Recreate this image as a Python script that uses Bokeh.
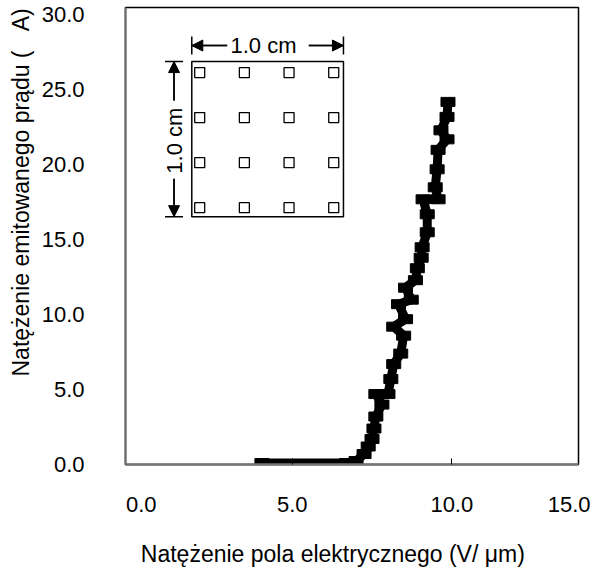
import numpy as np
from bokeh.plotting import figure
from bokeh.models import (Range1d, FixedTicker, Title, Label, Arrow,
                          NormalHead, TeeHead, ColumnDataSource, PrintfTickFormatter)
from bokeh.embed import file_html
from bokeh.resources import INLINE

# ---- data ----
field = [4.05, 6.70, 7.00, 7.25, 7.38, 7.50, 7.56, 7.62, 7.81, 7.62,
         8.00, 8.09, 8.18, 8.40, 8.49, 8.18, 8.55, 8.33, 8.73, 8.55,
         8.86, 8.92, 9.04, 9.07, 9.23, 9.23, 9.10, 9.57, 9.48, 9.54,
         9.57, 9.85, 9.66, 9.85, 9.88]
current = [0.1, 0.1, 0.23, 0.7, 1.2, 1.7, 2.4, 3.2, 4.0, 4.7,
           4.7, 5.7, 6.7, 7.4, 8.6, 9.2, 9.7, 10.7, 11.0, 11.8,
           12.3, 13.1, 13.8, 14.5, 15.5, 16.7, 17.7, 17.7, 18.5, 19.7,
           21.0, 21.7, 22.3, 23.2, 24.2]

y_ticks = [0, 5, 10, 15, 20, 25, 30]
x_tick_marks = [5, 10]
x_tick_labels = ["0.0", "5.0", "10.0", "15.0"]
x_label_pos = [0.27, 5, 10, 13.69]   # where the labels sit in the original

x_title = "Natężenie pola elektrycznego (V/ μm)"
y_title = "Natężenie emitowanego prądu (\u00a0\u00a0\u00a0A)"
inset_text = "1.0 cm"

FONT = "Liberation Sans"

p = figure(width=590, height=571, x_range=Range1d(-0.225, 13.97), y_range=Range1d(0, 30.5),
           output_backend="svg", toolbar_location=None,
           min_border_left=118, min_border_right=12, min_border_top=7, min_border_bottom=107)
p.grid.visible = False
p.outline_line_color = "black"
p.outline_line_width = 1.5
p.background_fill_color = "white"
p.border_fill_color = "white"

# y axis
yax = p.yaxis[0]
yax.ticker = FixedTicker(ticks=y_ticks)
yax.formatter = PrintfTickFormatter(format="%.1f")
yax.major_tick_line_color = None
yax.minor_tick_line_color = None
yax.major_tick_in = 0
yax.major_tick_out = 0
yax.major_label_standoff = 41
yax.major_label_text_font = FONT
yax.major_label_text_font_size = "22px"
yax.major_label_text_color = "black"
yax.axis_line_color = "#6e6e6e"
yax.axis_line_width = 2

# x axis: labels where the original put them, tick marks at 5 and 10
xax = p.xaxis[0]
xax.ticker = FixedTicker(ticks=x_label_pos, minor_ticks=x_tick_marks)
xax.major_label_overrides = dict(zip(x_label_pos, x_tick_labels))
xax.major_tick_line_color = None
xax.major_tick_in = 0
xax.major_tick_out = 0
xax.minor_tick_line_color = "black"
xax.minor_tick_in = 6
xax.minor_tick_out = 0
xax.major_label_standoff = 32
xax.major_label_text_font = FONT
xax.major_label_text_font_size = "22px"
xax.major_label_text_color = "black"
xax.axis_line_color = "#777777"
xax.axis_line_width = 2.5
xax.axis_label = x_title + "\u00a0" * 6
xax.axis_label_standoff = 26
xax.axis_label_text_font = FONT
xax.axis_label_text_font_size = "23px"
xax.axis_label_text_font_style = "normal"
xax.axis_label_text_color = "black"

p.add_layout(Title(text=y_title, align="left", offset=88, text_font=FONT,
                   text_font_size="23px", text_font_style="normal", text_color="black"), "left")

# data curve
src = ColumnDataSource(dict(x=field, y=current))
p.line("x", "y", source=src, line_width=9, line_color="black", line_join="bevel")
p.rect("x", "y", width=14, height=9, width_units="screen", height_units="screen",
       source=src, color="black")

# inset schematic (sample with 4 x 4 emitter array)
in_l, in_r, in_t, in_b = 1.852, 6.605, 26.89, 16.54
p.quad(left=[in_l], right=[in_r], top=[in_t], bottom=[in_b], fill_color=None,
       line_color="black", line_width=1.5)
gx, gy = np.meshgrid(np.linspace(2.10, 6.30, 4), np.linspace(17.14, 26.16, 4))
p.scatter(gx.ravel(), gy.ravel(), marker="square", size=10, fill_color="white",
          line_color="black", line_width=1.3)

ay = 27.96
for x0, x1 in [(2.96, in_l), (5.52, in_r)]:
    p.add_layout(Arrow(x_start=x0, y_start=ay, x_end=x1, y_end=ay, line_width=1.5,
                       end=NormalHead(size=11, fill_color="black", line_color="black")))
    p.add_layout(Arrow(x_start=x0, y_start=ay, x_end=x1, y_end=ay, line_width=1.5,
                       end=TeeHead(size=18, line_width=1.5)))
ax_ = 1.296
for y0, y1 in [(24.29, in_t), (19.07, in_b)]:
    p.add_layout(Arrow(x_start=ax_, y_start=y0, x_end=ax_, y_end=y1, line_width=1.5,
                       end=NormalHead(size=11, fill_color="black", line_color="black")))
    p.add_layout(Arrow(x_start=ax_, y_start=y0, x_end=ax_, y_end=y1, line_width=1.5,
                       end=TeeHead(size=18, line_width=1.5)))

p.add_layout(Label(x=4.1, y=ay, text=inset_text, text_align="center", text_baseline="middle",
                   text_font=FONT, text_font_size="22px", text_color="black"))
p.add_layout(Label(x=ax_, y=21.61, text=inset_text, angle=np.pi / 2, text_align="center",
                   text_baseline="middle", text_font=FONT, text_font_size="22px",
                   text_color="black"))

open("out.html", "w").write(file_html(p, INLINE))
